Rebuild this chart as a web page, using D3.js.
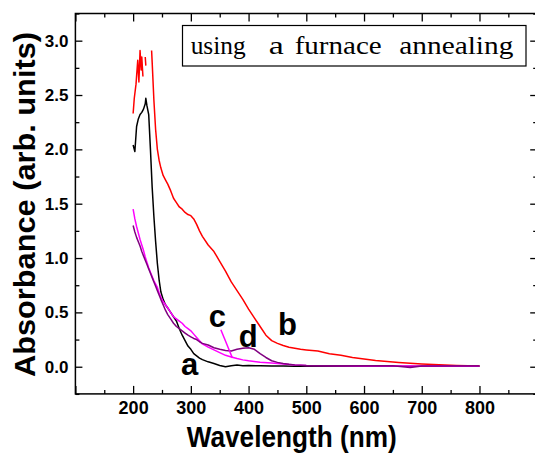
<!DOCTYPE html>
<html>
<head>
<meta charset="utf-8">
<script src="https://cdn.jsdelivr.net/npm/d3@7"></script>
<style>
  html, body { margin: 0; padding: 0; background: #fff; }
  svg { display: block; }
</style>
</head>
<body>
<svg id="chart" width="535" height="455"></svg>
<script>
// ---------- data ----------
const xMajorTicks = [100, 200, 300, 400, 500, 600, 700, 800, 900];
const xTickLabels = ["", "200", "300", "400", "500", "600", "700", "800", ""];
const xMinorTicks = [150, 250, 350, 450, 550, 650, 750, 850];
const yMajorTicks = [0, 0.5, 1.0, 1.5, 2.0, 2.5, 3.0];
const yTickLabels = ["0.0", "0.5", "1.0", "1.5", "2.0", "2.5", "3.0"];
const yMinorTicks = [-0.25, 0.25, 0.75, 1.25, 1.75, 2.25, 2.75, 3.25];

// curve a (black)
const wlA  = [200,203,206,209,212,215,218,221,222,224,227,230,233,236,239,242,245,248,252,256,260,265,270,275,280,285,290,295,300,305,310,315,320,330,340,350,360,370,380,390,400,420,440,460,480,500,550,600,650,700,750,800];
const absA = [2.04,1.98,2.21,2.28,2.32,2.34,2.37,2.42,2.47,2.40,2.32,2.00,1.65,1.38,1.15,0.95,0.80,0.69,0.62,0.57,0.54,0.50,0.46,0.42,0.35,0.29,0.24,0.19,0.16,0.12,0.10,0.08,0.065,0.045,0.03,0.012,0.0,0.01,0.015,0.01,0.012,0.008,0.006,0.006,0.005,0.005,0.005,0.005,0.004,0.004,0.004,0.004];

// curve b (red) - null marks gaps in the recorded trace
const wlB  = [200,202,205,208,210,212,214,215,217,219,221,222,225,232,233,236,239,242,245,248,252,256,260,265,270,275,280,285,290,295,300,305,310,315,320,330,340,350,360,370,380,390,400,410,420,430,440,450,460,470,480,490,500,520,540,560,580,600,620,640,660,680,700,720,740,760,780,800];
const absB = [2.33,2.47,2.60,2.82,2.62,2.91,2.73,2.85,2.67,null,2.85,2.77,null,2.91,2.80,2.45,2.18,2.00,1.90,1.83,1.76,1.72,1.68,1.62,1.55,1.51,1.47,1.45,1.42,1.40,1.39,1.36,1.31,1.25,1.20,1.12,1.06,0.97,0.88,0.78,0.70,0.62,0.53,0.45,0.37,0.29,0.24,0.215,0.195,0.18,0.17,0.16,0.155,0.145,0.12,0.105,0.085,0.072,0.058,0.048,0.04,0.032,0.025,0.02,0.015,0.012,0.01,0.01];

// curve c (magenta)
const wlC  = [200,203,206,209,212,215,218,221,224,227,230,233,236,239,242,245,248,252,256,260,265,270,275,280,285,290,295,300,305,310,315,320,330,340,350,360,370,380,390,400,420,440,460,480,500,550,600,650,700,750,800];
const absC = [1.45,1.36,1.29,1.23,1.17,1.12,1.07,1.01,0.96,0.91,0.87,0.83,0.79,0.76,0.73,0.68,0.64,0.60,0.57,0.54,0.50,0.46,0.44,0.42,0.40,0.37,0.35,0.33,0.30,0.27,0.24,0.21,0.18,0.155,0.13,0.105,0.09,0.075,0.063,0.055,0.042,0.034,0.024,0.016,0.012,0.009,0.007,0.006,0.006,0.005,0.005];

// curve d (purple)
const wlD  = [200,203,206,209,212,215,218,221,224,227,230,233,236,239,242,245,248,252,256,260,265,270,275,280,285,290,295,300,305,310,315,320,330,340,350,360,370,380,390,400,410,420,430,440,450,460,470,480,500,550,600,650,680,700,750,800];
const absD = [1.30,1.24,1.19,1.15,1.11,1.06,1.02,0.98,0.94,0.90,0.86,0.82,0.78,0.74,0.70,0.66,0.62,0.57,0.52,0.48,0.44,0.40,0.37,0.35,0.33,0.31,0.29,0.275,0.26,0.25,0.23,0.215,0.20,0.175,0.16,0.15,0.145,0.16,0.17,0.175,0.16,0.12,0.085,0.055,0.04,0.03,0.022,0.017,0.012,0.01,0.009,0.008,-0.008,0.006,0.006,0.006];

const seriesColors = ["#000000", "#ff0000", "#ff00ff", "#800080"];
const seriesNames = ["a", "b", "c", "d"];

// ---------- layout ----------
const svg = d3.select("#chart");
const L = 75.4, R = 537.2, T = 13.5, B = 393.9;
const x = d3.scaleLinear().domain([100, 900]).range([L, R]);
const y = d3.scaleLinear().domain([-0.25, 3.25]).range([B, T]);

const tickFont = "'Liberation Sans', Arial, Helvetica, sans-serif";

// curves
const series = [
  {wl: wlA, v: absA}, {wl: wlB, v: absB}, {wl: wlC, v: absC}, {wl: wlD, v: absD}
];
const line = d3.line()
  .defined(d => d[1] !== null)
  .x(d => x(d[0])).y(d => y(d[1]));

const clip = svg.append("clipPath").attr("id", "plotclip")
  .append("rect").attr("x", L).attr("y", T).attr("width", R - L).attr("height", B - T);

const g = svg.append("g").attr("clip-path", "url(#plotclip)");
// draw order: a, b, c, d on top
[1, 0, 2, 3].forEach(i => {
  const s = series[i];
  g.append("path")
    .datum(s.wl.map((w, k) => [w, s.v[k]]))
    .attr("fill", "none")
    .attr("stroke", seriesColors[i])
    .attr("stroke-width", 1.5)
    .attr("stroke-linejoin", "round")
    .attr("d", line);
});

// pointer line for label c
g.append("line")
  .attr("x1", x(352)).attr("y1", y(0.34))
  .attr("x2", x(372)).attr("y2", y(0.08))
  .attr("stroke", "#ff00ff").attr("stroke-width", 1.5);

// ---------- axes ----------
function styleAxis(sel) {
  sel.select(".domain").remove();
  sel.selectAll(".tick line").attr("stroke", "#000").attr("stroke-width", 1.3);
  sel.selectAll(".tick text")
    .attr("fill", "#000")
    .style("font-family", tickFont)
    .style("font-weight", "bold");
}

// bottom
svg.append("g").attr("transform", `translate(0,${B})`)
  .call(d3.axisBottom(x).tickValues(xMajorTicks).tickSizeInner(-8).tickSizeOuter(0).tickPadding(7)
    .tickFormat((d, i) => xTickLabels[i]))
  .call(styleAxis)
  .call(s => s.selectAll(".tick text").style("font-size", "18px"));
svg.append("g").attr("transform", `translate(0,${B})`)
  .call(d3.axisBottom(x).tickValues(xMinorTicks).tickSizeInner(-4).tickSizeOuter(0).tickFormat(""))
  .call(styleAxis);
// top
svg.append("g").attr("transform", `translate(0,${T})`)
  .call(d3.axisTop(x).tickValues(xMajorTicks).tickSizeInner(-8).tickSizeOuter(0).tickFormat(""))
  .call(styleAxis);
svg.append("g").attr("transform", `translate(0,${T})`)
  .call(d3.axisTop(x).tickValues(xMinorTicks).tickSizeInner(-4).tickSizeOuter(0).tickFormat(""))
  .call(styleAxis);
// left
svg.append("g").attr("transform", `translate(${L},0)`)
  .call(d3.axisLeft(y).tickValues(yMajorTicks).tickSizeInner(-7).tickSizeOuter(0).tickPadding(7)
    .tickFormat((d, i) => yTickLabels[i]))
  .call(styleAxis)
  .call(s => s.selectAll(".tick text").style("font-size", "17px"));
svg.append("g").attr("transform", `translate(${L},0)`)
  .call(d3.axisLeft(y).tickValues(yMinorTicks).tickSizeInner(-4).tickSizeOuter(0).tickFormat(""))
  .call(styleAxis);
// right
svg.append("g").attr("transform", `translate(${R},0)`)
  .call(d3.axisRight(y).tickValues(yMajorTicks).tickSizeInner(-7).tickSizeOuter(0).tickFormat(""))
  .call(styleAxis);
svg.append("g").attr("transform", `translate(${R},0)`)
  .call(d3.axisRight(y).tickValues(yMinorTicks).tickSizeInner(-4).tickSizeOuter(0).tickFormat(""))
  .call(styleAxis);

// frame
svg.append("rect")
  .attr("x", L).attr("y", T).attr("width", R - L).attr("height", B - T)
  .attr("fill", "none").attr("stroke", "#000").attr("stroke-width", 1.5);

// ---------- axis titles ----------
svg.append("text")
  .attr("x", 186.7).attr("y", 446.5)
  .attr("textLength", 210).attr("lengthAdjust", "spacingAndGlyphs")
  .style("font-family", tickFont).style("font-weight", "bold").style("font-size", "30px")
  .text("Wavelength (nm)");

svg.append("text")
  .attr("transform", `translate(35,377) rotate(-90)`)
  .attr("textLength", 345).attr("lengthAdjust", "spacingAndGlyphs")
  .style("font-family", tickFont).style("font-weight", "bold").style("font-size", "30px")
  .text("Absorbance (arb. units)");

// ---------- curve labels ----------
const labelPos = [
  {t: "a", wl: 283, v: -0.076},
  {t: "b", wl: 451, v: 0.29},
  {t: "c", wl: 331, v: 0.365},
  {t: "d", wl: 383, v: 0.18}
];
svg.selectAll(".clabel").data(labelPos).enter().append("text")
  .attr("class", "clabel")
  .attr("x", d => x(d.wl)).attr("y", d => y(d.v))
  .style("font-family", tickFont).style("font-weight", "bold").style("font-size", "31px")
  .attr("fill", "#000")
  .text(d => d.t);

// ---------- legend box ----------
svg.append("rect")
  .attr("x", 182.5).attr("y", 25.5).attr("width", 343.5).attr("height", 40.5)
  .attr("fill", "#fff").attr("stroke", "#000").attr("stroke-width", 1.2);
const legendWords = [
  {w: "using", x: 190.7, len: 55},
  {w: "a", x: 268.7, len: 15},
  {w: "furnace", x: 294.7, len: 87},
  {w: "annealing", x: 399.3, len: 114}
];
svg.selectAll(".lw").data(legendWords).enter().append("text")
  .attr("class", "lw")
  .attr("x", d => d.x).attr("y", 54)
  .attr("textLength", d => d.len).attr("lengthAdjust", "spacingAndGlyphs")
  .style("font-family", "'Liberation Serif', 'Times New Roman', serif")
  .style("font-size", "25px")
  .attr("fill", "#000")
  .text(d => d.w);
</script>
</body>
</html>
